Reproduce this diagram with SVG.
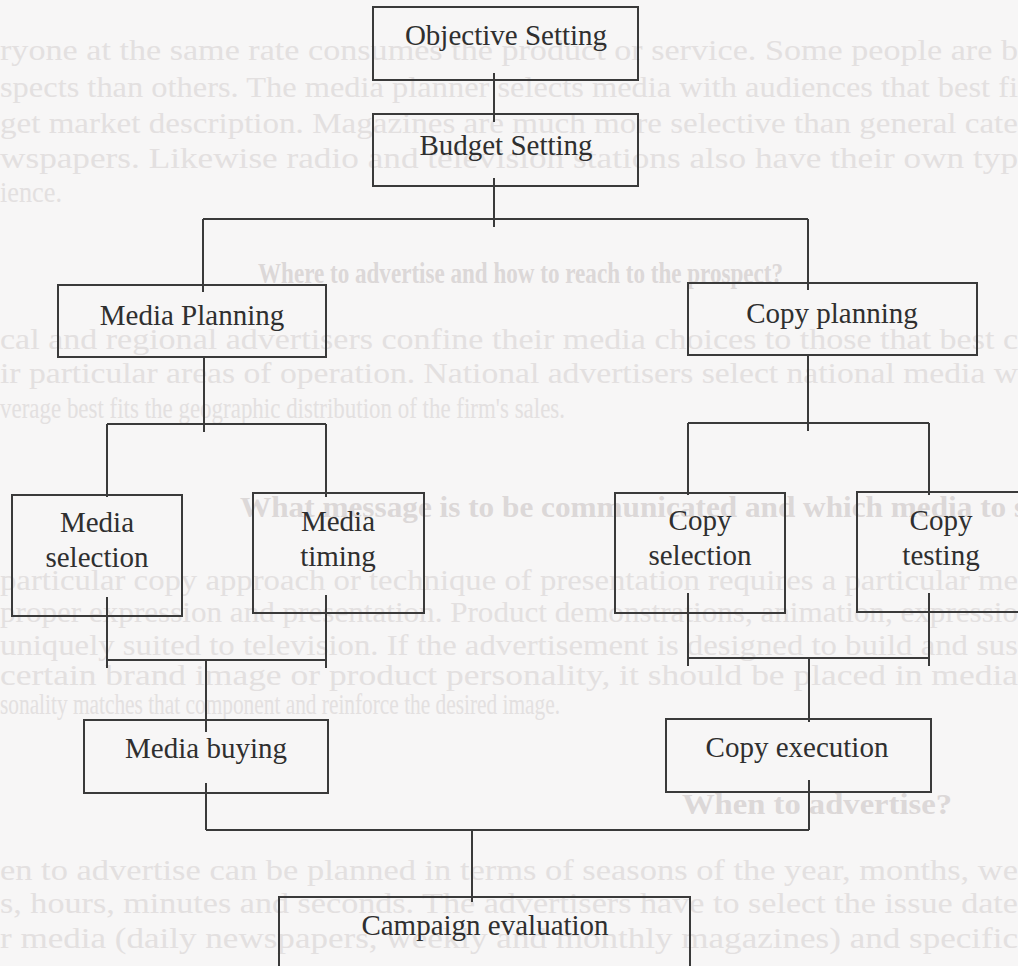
<svg xmlns="http://www.w3.org/2000/svg" width="1018" height="966" viewBox="0 0 1018 966">
  <style>
    .page { fill: #f7f6f6; }
    .under { font-family: "Liberation Serif", "Times New Roman", serif; font-size: 29px; fill: #e3e0e0; }
    .under-h { font-family: "Liberation Serif", "Times New Roman", serif; font-size: 29px; font-weight: bold; fill: #dcd8d8; }
    .box { fill: none; stroke: #3a3a3a; stroke-width: 2; }
    .label { font-family: "Liberation Serif", "Times New Roman", serif; font-size: 29px; fill: #2f2f2f; text-anchor: middle; }
    .link { fill: none; stroke: #3a3a3a; stroke-width: 2; }
  </style>

  <rect class="page" x="0" y="0" width="1018" height="966"/>

  <!-- faint printed text from the facing sheet -->
  <g id="page-underlay">
    <text class="under" x="0" y="60" textLength="1018" lengthAdjust="spacingAndGlyphs">ryone at the same rate consumes the product or service. Some people are b</text>
    <text class="under" x="0" y="97" textLength="1018" lengthAdjust="spacingAndGlyphs">spects than others. The media planner selects media with audiences that best fi</text>
    <text class="under" x="0" y="133" textLength="1018" lengthAdjust="spacingAndGlyphs">get market description. Magazines are much more selective than general cate</text>
    <text class="under" x="0" y="168" textLength="1018" lengthAdjust="spacingAndGlyphs">wspapers. Likewise radio and television stations also have their own typ</text>
    <text class="under" x="0" y="202" textLength="62" lengthAdjust="spacingAndGlyphs">ience.</text>

    <text class="under-h" x="258" y="283" textLength="525" lengthAdjust="spacingAndGlyphs">Where to advertise and how to reach to the prospect?</text>
    <text class="under" x="0" y="349" textLength="1018" lengthAdjust="spacingAndGlyphs">cal and regional advertisers confine their media choices to those that best c</text>
    <text class="under" x="0" y="383" textLength="1018" lengthAdjust="spacingAndGlyphs">ir particular areas of operation. National advertisers select national media w</text>
    <text class="under" x="0" y="418" textLength="565" lengthAdjust="spacingAndGlyphs">verage best fits the geographic distribution of the firm's sales.</text>

    <text class="under-h" x="240" y="517" textLength="800" lengthAdjust="spacingAndGlyphs">What message is to be communicated and which media to se</text>
    <text class="under" x="0" y="590" textLength="1018" lengthAdjust="spacingAndGlyphs">particular copy approach or technique of presentation requires a particular me</text>
    <text class="under" x="0" y="622" textLength="1018" lengthAdjust="spacingAndGlyphs">proper expression and presentation. Product demonstrations, animation, expressio</text>
    <text class="under" x="0" y="655" textLength="1018" lengthAdjust="spacingAndGlyphs">uniquely suited to television. If the advertisement is designed to build and sus</text>
    <text class="under" x="0" y="685" textLength="1018" lengthAdjust="spacingAndGlyphs">certain brand image or product personality, it should be placed in media</text>
    <text class="under" x="0" y="714" textLength="560" lengthAdjust="spacingAndGlyphs">sonality matches that component and reinforce the desired image.</text>

    <text class="under-h" x="682" y="814" textLength="270" lengthAdjust="spacingAndGlyphs">When to advertise?</text>
    <text class="under" x="0" y="880" textLength="1018" lengthAdjust="spacingAndGlyphs">en to advertise can be planned in terms of seasons of the year, months, we</text>
    <text class="under" x="0" y="913" textLength="1018" lengthAdjust="spacingAndGlyphs">s, hours, minutes and seconds. The advertisers have to select the issue date</text>
    <text class="under" x="0" y="948" textLength="1018" lengthAdjust="spacingAndGlyphs">r media (daily newspapers, weekly and monthly magazines) and specific</text>
  </g>

  <!-- tree connectors -->
  <g id="connectors">
    <path class="link" d="M494,73 V122"/>
    <path class="link" d="M494,178 V227 M203,219 H808 M203,219 V292 M808,219 V290"/>
    <path class="link" d="M204,357 V432 M107,424 H326 M107,424 V497 M326,424 V497"/>
    <path class="link" d="M808,355 V431 M688,423 H929 M688,423 V495 M929,423 V495"/>
    <path class="link" d="M107,597 V668 M326,595 V668 M107,660 H327 M206,660 V732"/>
    <path class="link" d="M688,593 V666 M929,593 V666 M688,658 H929 M809,658 V722"/>
    <path class="link" d="M206,783 V830 M809,780 V830 M206,830 H809 M472,830 V902"/>
  </g>

  <g id="objective-setting">
    <rect class="box" x="373" y="7" width="265" height="73"/>
    <text class="label" x="506" y="45">Objective Setting</text>
  </g>
  <g id="budget-setting">
    <rect class="box" x="373" y="114" width="265" height="72"/>
    <text class="label" x="506" y="155">Budget Setting</text>
  </g>
  <g id="media-planning">
    <rect class="box" x="58" y="285" width="268" height="72"/>
    <text class="label" x="192" y="325">Media Planning</text>
  </g>
  <g id="copy-planning">
    <rect class="box" x="688" y="283" width="289" height="72"/>
    <text class="label" x="832" y="323">Copy planning</text>
  </g>
  <g id="media-selection">
    <rect class="box" x="12" y="495" width="170" height="121"/>
    <text class="label" x="97" y="532">Media</text>
    <text class="label" x="97" y="567">selection</text>
  </g>
  <g id="media-timing">
    <rect class="box" x="253" y="493" width="171" height="120"/>
    <text class="label" x="338" y="531">Media</text>
    <text class="label" x="338" y="566">timing</text>
  </g>
  <g id="copy-selection">
    <rect class="box" x="615" y="493" width="170" height="120"/>
    <text class="label" x="700" y="530">Copy</text>
    <text class="label" x="700" y="565">selection</text>
  </g>
  <g id="copy-testing">
    <rect class="box" x="857" y="492" width="170" height="120"/>
    <text class="label" x="941" y="530">Copy</text>
    <text class="label" x="941" y="565">testing</text>
  </g>
  <g id="media-buying">
    <rect class="box" x="84" y="720" width="244" height="73"/>
    <text class="label" x="206" y="758">Media buying</text>
  </g>
  <g id="copy-execution">
    <rect class="box" x="666" y="719" width="265" height="73"/>
    <text class="label" x="797" y="757">Copy execution</text>
  </g>
  <g id="campaign-evaluation">
    <rect class="box" x="279" y="897" width="411" height="90"/>
    <text class="label" x="485" y="935">Campaign evaluation</text>
  </g>
</svg>
